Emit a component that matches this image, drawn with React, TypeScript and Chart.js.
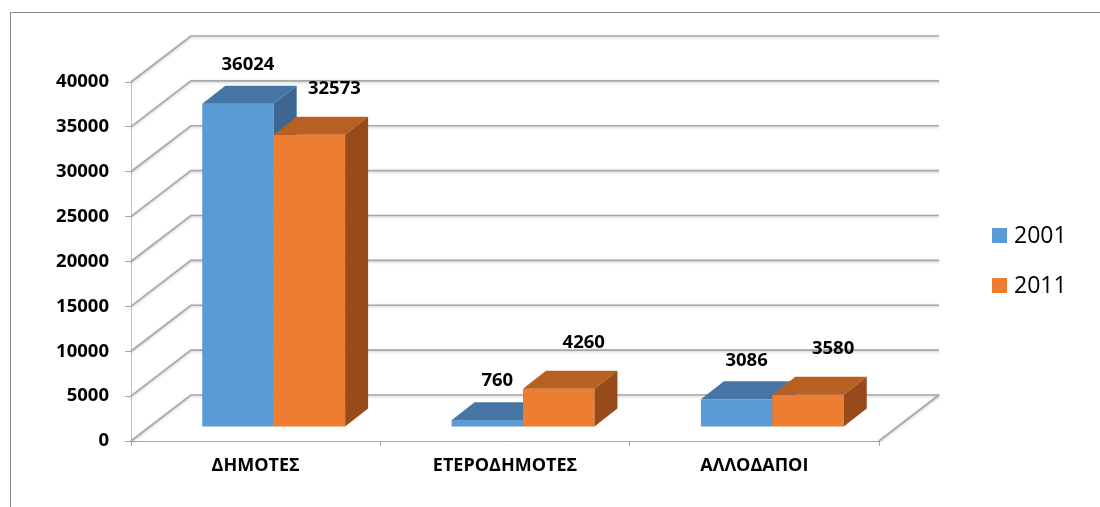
import React, { useEffect, useRef } from "react";
import { Chart, registerables } from "chart.js";

Chart.register(...registerables);

// ---- data ----
const categories = ["ΔΗΜΟΤΕΣ", "ΕΤΕΡΟΔΗΜΟΤΕΣ", "ΑΛΛΟΔΑΠΟΙ"];
const seriesNames = ["2001", "2011"];
const values2001 = [36024, 760, 3086];
const values2011 = [32573, 4260, 3580];
const yMin = 0;
const yMax = 40000;
const yStep = 5000;

// ---- style ----
const FONT = '"Open Sans", "DejaVu Sans", sans-serif';
const frontColors = ["#5b9bd5", "#ed7d31"];
const topColors = ["#4676a6", "#b85f22"];
const sideColors = ["#3d6790", "#974b1b"];
const labelDx = [10, 25];
const labelDy = [-39, -46];

const WALL_DX = 60;
const WALL_DY = -46;
const BAR_DX = 18;
const BAR_DY = -14;
const DEPTH_DX = 23;
const DEPTH_DY = -18;

const threeD = {
  id: "threeD",
  beforeDraw(chart: any) {
    const ctx = chart.ctx;
    ctx.save();
    ctx.fillStyle = "#ffffff";
    ctx.fillRect(0, 0, chart.width, chart.height);
    ctx.strokeStyle = "#8a8a8a";
    ctx.lineWidth = 1;
    ctx.strokeRect(10.5, 12.5, chart.width + 20, chart.height + 20);
    ctx.restore();
  },
  beforeDatasetsDraw(chart: any) {
    const { ctx, chartArea: a, scales } = chart;
    const ys = scales.y;
    ctx.save();
    ctx.strokeStyle = "#a8a8a8";
    ctx.lineWidth = 1.7;
    ctx.shadowColor = "rgba(0,0,0,0.22)";
    ctx.shadowBlur = 3;
    ctx.shadowOffsetY = 1;
    ys.ticks.forEach((t: any) => {
      const py = ys.getPixelForValue(t.value);
      ctx.beginPath();
      ctx.moveTo(a.left, py);
      ctx.lineTo(a.left + WALL_DX, py + WALL_DY);
      ctx.lineTo(a.right + WALL_DX, py + WALL_DY);
      ctx.stroke();
    });
    const p0 = ys.getPixelForValue(0);
    ctx.beginPath();
    ctx.moveTo(a.right, p0);
    ctx.lineTo(a.right + WALL_DX, p0 + WALL_DY);
    ctx.stroke();
    ctx.restore();

    const boxes: any[] = [];
    chart.data.datasets.forEach((ds: any, di: number) => {
      const meta = chart.getDatasetMeta(di);
      meta.data.forEach((el: any, i: number) => {
        const { x, y, base, width } = el.getProps(["x", "y", "base", "width"], true);
        const x0 = x - width / 2 + BAR_DX;
        const x1 = x + width / 2 + BAR_DX;
        const yT = y + BAR_DY;
        const yB = base + BAR_DY;
        ctx.save();
        ctx.fillStyle = frontColors[di];
        ctx.fillRect(x0, yT, x1 - x0, yB - yT);
        ctx.fillStyle = topColors[di];
        ctx.beginPath();
        ctx.moveTo(x0, yT);
        ctx.lineTo(x0 + DEPTH_DX, yT + DEPTH_DY);
        ctx.lineTo(x1 + DEPTH_DX, yT + DEPTH_DY);
        ctx.lineTo(x1, yT);
        ctx.closePath();
        ctx.fill();
        ctx.fillStyle = sideColors[di];
        ctx.beginPath();
        ctx.moveTo(x1, yT);
        ctx.lineTo(x1 + DEPTH_DX, yT + DEPTH_DY);
        ctx.lineTo(x1 + DEPTH_DX, yB + DEPTH_DY);
        ctx.lineTo(x1, yB);
        ctx.closePath();
        ctx.fill();
        ctx.restore();
        boxes.push({ di, cx: (x0 + x1) / 2, yT, v: ds.data[i] });
      });
    });
    ctx.save();
    ctx.fillStyle = "#000";
    ctx.font = `bold 18.5px ${FONT}`;
    ctx.textAlign = "center";
    ctx.textBaseline = "middle";
    boxes.forEach((b) => {
      ctx.fillText(String(b.v), b.cx + labelDx[b.di], b.yT + labelDy[b.di]);
    });
    ctx.restore();
    return false;
  },
  afterDraw(chart: any) {
    const ctx = chart.ctx;
    ctx.save();
    ctx.font = `23px ${FONT}`;
    ctx.textAlign = "left";
    ctx.textBaseline = "middle";
    chart.data.datasets.forEach((ds: any, di: number) => {
      const cy = 235.5 + di * 50;
      ctx.fillStyle = frontColors[di];
      ctx.fillRect(992, cy - 7.5, 15, 15);
      ctx.fillStyle = "#000";
      ctx.fillText(ds.label, 1014, cy + 1);
    });
    ctx.restore();
  },
};

export default function App() {
  const ref = useRef<HTMLCanvasElement | null>(null);
  useEffect(() => {
    if (!ref.current) return;
    const chart = new Chart(ref.current, {
      type: "bar",
      data: {
        labels: categories,
        datasets: [
          { label: seriesNames[0], data: values2001, backgroundColor: frontColors[0] },
          { label: seriesNames[1], data: values2011, backgroundColor: frontColors[1] },
        ],
      },
      options: {
        animation: false,
        responsive: false,
        maintainAspectRatio: false,
        layout: { padding: { left: 0, top: 82, right: 221, bottom: 16 } },
        datasets: { bar: { categoryPercentage: 0.573, barPercentage: 1 } },
        plugins: { legend: { display: false }, tooltip: { enabled: false }, title: { display: false } },
        scales: {
          x: {
            grid: { drawOnChartArea: false, drawTicks: true, tickLength: 5, color: "#a6a6a6", offset: true },
            border: { color: "#a6a6a6" },
            ticks: {
              font: { family: FONT, size: 18, weight: "bold" },
              color: "#000",
              padding: 9,
              maxRotation: 0,
              autoSkip: false,
            },
            afterFit: (s: any) => {
              s.height = 50;
            },
          },
          y: {
            min: yMin,
            max: yMax,
            ticks: {
              stepSize: yStep,
              callback: (v: any) => String(v),
              font: { family: FONT, size: 18.5, weight: "bold" },
              color: "#000",
              padding: 16,
            },
            grid: { drawOnChartArea: false, tickLength: 6, color: "#a6a6a6" },
            border: { color: "#bfbfbf" },
            afterFit: (s: any) => {
              s.width = 131;
            },
          },
        },
      },
      plugins: [threeD],
    } as any);
    return () => chart.destroy();
  }, []);
  return (
    <div style={{ position: "fixed", left: 0, top: 0, width: 1100, height: 507 }}>
      <canvas ref={ref} width={1100} height={507} style={{ display: "block" }} />
    </div>
  );
}
